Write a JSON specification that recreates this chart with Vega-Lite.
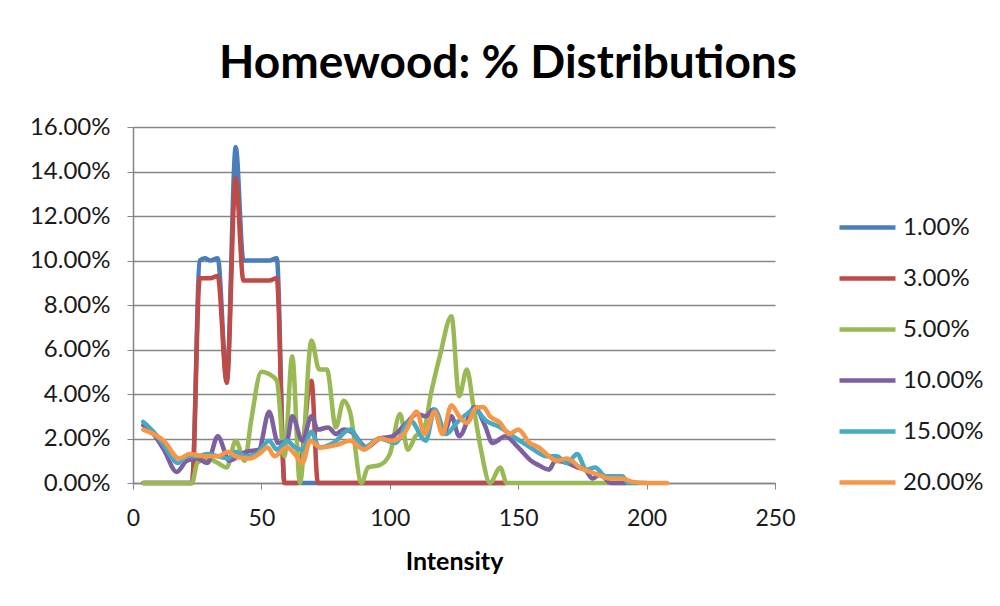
{
  "$schema": "https://vega.github.io/schema/vega-lite/v6.json",
  "autosize": {"type": "none"},
  "width": 642,
  "height": 356,
  "padding": {"left": 133, "top": 127, "right": 225, "bottom": 123},
  "background": "white",
  "title": {
    "text": "Homewood: % Distributions",
    "font": "Lato",
    "fontSize": 46,
    "fontWeight": "bold",
    "color": "#000000",
    "anchor": "middle",
    "frame": "group",
    "dx": 54,
    "offset": 27
  },
  "config": {
    "view": {"stroke": null},
    "font": "Lato"
  },
  "data": {
    "values": [
      {"s": "1.00%", "x": 4, "y": 0}, {"s": "1.00%", "x": 23, "y": 0}, {"s": "1.00%", "x": 26, "y": 10.0}, {"s": "1.00%", "x": 28, "y": 10.1}, {"s": "1.00%", "x": 30, "y": 10.0}, {"s": "1.00%", "x": 33, "y": 10.1}, {"s": "1.00%", "x": 36.5, "y": 4.6}, {"s": "1.00%", "x": 40, "y": 15.1}, {"s": "1.00%", "x": 43, "y": 10.0}, {"s": "1.00%", "x": 46, "y": 10.0}, {"s": "1.00%", "x": 50, "y": 10.0}, {"s": "1.00%", "x": 53, "y": 10.0}, {"s": "1.00%", "x": 56, "y": 10.1}, {"s": "1.00%", "x": 59, "y": 0}, {"s": "1.00%", "x": 64, "y": 0}, {"s": "1.00%", "x": 72, "y": 0}, {"s": "1.00%", "x": 110, "y": 0}, {"s": "1.00%", "x": 145, "y": 0},
      {"s": "3.00%", "x": 4, "y": 0}, {"s": "3.00%", "x": 23, "y": 0}, {"s": "3.00%", "x": 26, "y": 9.2}, {"s": "3.00%", "x": 28, "y": 9.2}, {"s": "3.00%", "x": 30, "y": 9.2}, {"s": "3.00%", "x": 33, "y": 9.3}, {"s": "3.00%", "x": 36.5, "y": 4.5}, {"s": "3.00%", "x": 40, "y": 13.7}, {"s": "3.00%", "x": 43, "y": 9.1}, {"s": "3.00%", "x": 46, "y": 9.1}, {"s": "3.00%", "x": 50, "y": 9.1}, {"s": "3.00%", "x": 53, "y": 9.1}, {"s": "3.00%", "x": 56, "y": 9.2}, {"s": "3.00%", "x": 59, "y": 0}, {"s": "3.00%", "x": 64, "y": 0}, {"s": "3.00%", "x": 69.5, "y": 4.6}, {"s": "3.00%", "x": 72, "y": 0}, {"s": "3.00%", "x": 110, "y": 0}, {"s": "3.00%", "x": 145, "y": 0},
      {"s": "5.00%", "x": 4, "y": 0}, {"s": "5.00%", "x": 23, "y": 0}, {"s": "5.00%", "x": 25, "y": 0.9}, {"s": "5.00%", "x": 29, "y": 1.1}, {"s": "5.00%", "x": 33, "y": 0.9}, {"s": "5.00%", "x": 36.5, "y": 0.7}, {"s": "5.00%", "x": 40, "y": 1.9}, {"s": "5.00%", "x": 43.5, "y": 1.0}, {"s": "5.00%", "x": 46, "y": 2.8}, {"s": "5.00%", "x": 50, "y": 5.0}, {"s": "5.00%", "x": 53, "y": 4.9}, {"s": "5.00%", "x": 56, "y": 4.6}, {"s": "5.00%", "x": 59, "y": 1.2}, {"s": "5.00%", "x": 62, "y": 5.7}, {"s": "5.00%", "x": 65, "y": 0}, {"s": "5.00%", "x": 69.5, "y": 6.4}, {"s": "5.00%", "x": 72.5, "y": 5.1}, {"s": "5.00%", "x": 75.5, "y": 5.1}, {"s": "5.00%", "x": 79, "y": 2.5}, {"s": "5.00%", "x": 82, "y": 3.7}, {"s": "5.00%", "x": 84.5, "y": 3.2}, {"s": "5.00%", "x": 89, "y": 0}, {"s": "5.00%", "x": 91.5, "y": 0.7}, {"s": "5.00%", "x": 96, "y": 0.8}, {"s": "5.00%", "x": 100, "y": 1.3}, {"s": "5.00%", "x": 104, "y": 3.1}, {"s": "5.00%", "x": 107, "y": 1.5}, {"s": "5.00%", "x": 110, "y": 2.1}, {"s": "5.00%", "x": 113.5, "y": 2.5}, {"s": "5.00%", "x": 116, "y": 4.0}, {"s": "5.00%", "x": 119.5, "y": 5.7}, {"s": "5.00%", "x": 124, "y": 7.5}, {"s": "5.00%", "x": 127, "y": 3.9}, {"s": "5.00%", "x": 130, "y": 5.1}, {"s": "5.00%", "x": 132.5, "y": 3.5}, {"s": "5.00%", "x": 135.5, "y": 1.5}, {"s": "5.00%", "x": 139, "y": 0}, {"s": "5.00%", "x": 143, "y": 0.7}, {"s": "5.00%", "x": 145.5, "y": 0}, {"s": "5.00%", "x": 170, "y": 0}, {"s": "5.00%", "x": 196, "y": 0},
      {"s": "10.00%", "x": 4, "y": 2.6}, {"s": "10.00%", "x": 8, "y": 2.2}, {"s": "10.00%", "x": 12, "y": 1.5}, {"s": "10.00%", "x": 17, "y": 0.5}, {"s": "10.00%", "x": 21, "y": 1.0}, {"s": "10.00%", "x": 25, "y": 1.1}, {"s": "10.00%", "x": 29, "y": 0.9}, {"s": "10.00%", "x": 33, "y": 2.1}, {"s": "10.00%", "x": 37.5, "y": 1.0}, {"s": "10.00%", "x": 41, "y": 1.2}, {"s": "10.00%", "x": 44, "y": 1.4}, {"s": "10.00%", "x": 49, "y": 1.5}, {"s": "10.00%", "x": 53, "y": 3.2}, {"s": "10.00%", "x": 56.5, "y": 1.8}, {"s": "10.00%", "x": 60, "y": 1.9}, {"s": "10.00%", "x": 62, "y": 3.0}, {"s": "10.00%", "x": 66, "y": 1.9}, {"s": "10.00%", "x": 69.5, "y": 3.0}, {"s": "10.00%", "x": 72, "y": 2.4}, {"s": "10.00%", "x": 76, "y": 2.5}, {"s": "10.00%", "x": 79, "y": 2.2}, {"s": "10.00%", "x": 82, "y": 2.4}, {"s": "10.00%", "x": 85, "y": 2.3}, {"s": "10.00%", "x": 91, "y": 1.6}, {"s": "10.00%", "x": 96, "y": 2.0}, {"s": "10.00%", "x": 101, "y": 2.1}, {"s": "10.00%", "x": 106.5, "y": 2.7}, {"s": "10.00%", "x": 110.5, "y": 3.1}, {"s": "10.00%", "x": 114, "y": 3.0}, {"s": "10.00%", "x": 117, "y": 3.3}, {"s": "10.00%", "x": 121, "y": 2.2}, {"s": "10.00%", "x": 124, "y": 3.0}, {"s": "10.00%", "x": 127, "y": 2.1}, {"s": "10.00%", "x": 133, "y": 3.4}, {"s": "10.00%", "x": 137, "y": 2.6}, {"s": "10.00%", "x": 140, "y": 1.8}, {"s": "10.00%", "x": 145, "y": 2.1}, {"s": "10.00%", "x": 150, "y": 1.6}, {"s": "10.00%", "x": 155, "y": 1.0}, {"s": "10.00%", "x": 158, "y": 0.8}, {"s": "10.00%", "x": 162, "y": 0.6}, {"s": "10.00%", "x": 164.5, "y": 1.0}, {"s": "10.00%", "x": 169, "y": 0.9}, {"s": "10.00%", "x": 173, "y": 0.7}, {"s": "10.00%", "x": 176, "y": 0.6}, {"s": "10.00%", "x": 179, "y": 0.2}, {"s": "10.00%", "x": 182, "y": 0.4}, {"s": "10.00%", "x": 186, "y": 0}, {"s": "10.00%", "x": 192, "y": 0},
      {"s": "15.00%", "x": 4, "y": 2.75}, {"s": "15.00%", "x": 8, "y": 2.3}, {"s": "15.00%", "x": 12, "y": 1.7}, {"s": "15.00%", "x": 17.5, "y": 0.9}, {"s": "15.00%", "x": 21, "y": 1.2}, {"s": "15.00%", "x": 25, "y": 1.2}, {"s": "15.00%", "x": 29, "y": 1.3}, {"s": "15.00%", "x": 33, "y": 1.2}, {"s": "15.00%", "x": 37, "y": 1.1}, {"s": "15.00%", "x": 40, "y": 1.4}, {"s": "15.00%", "x": 44, "y": 1.2}, {"s": "15.00%", "x": 48, "y": 1.3}, {"s": "15.00%", "x": 53, "y": 1.9}, {"s": "15.00%", "x": 56, "y": 1.5}, {"s": "15.00%", "x": 60, "y": 1.9}, {"s": "15.00%", "x": 63, "y": 1.6}, {"s": "15.00%", "x": 66, "y": 1.5}, {"s": "15.00%", "x": 69.5, "y": 2.3}, {"s": "15.00%", "x": 72.5, "y": 1.6}, {"s": "15.00%", "x": 78, "y": 1.8}, {"s": "15.00%", "x": 84.5, "y": 2.4}, {"s": "15.00%", "x": 90, "y": 1.6}, {"s": "15.00%", "x": 96, "y": 2.0}, {"s": "15.00%", "x": 102, "y": 1.8}, {"s": "15.00%", "x": 108, "y": 2.8}, {"s": "15.00%", "x": 114, "y": 1.9}, {"s": "15.00%", "x": 117.5, "y": 3.3}, {"s": "15.00%", "x": 122, "y": 2.2}, {"s": "15.00%", "x": 126, "y": 2.7}, {"s": "15.00%", "x": 130, "y": 3.1}, {"s": "15.00%", "x": 133, "y": 3.3}, {"s": "15.00%", "x": 137.5, "y": 2.8}, {"s": "15.00%", "x": 143, "y": 2.5}, {"s": "15.00%", "x": 148, "y": 2.1}, {"s": "15.00%", "x": 152, "y": 1.8}, {"s": "15.00%", "x": 156, "y": 1.5}, {"s": "15.00%", "x": 161, "y": 1.2}, {"s": "15.00%", "x": 165, "y": 1.2}, {"s": "15.00%", "x": 169, "y": 0.9}, {"s": "15.00%", "x": 173, "y": 1.3}, {"s": "15.00%", "x": 176.5, "y": 0.6}, {"s": "15.00%", "x": 180, "y": 0.7}, {"s": "15.00%", "x": 184, "y": 0.3}, {"s": "15.00%", "x": 190.5, "y": 0.3}, {"s": "15.00%", "x": 193, "y": 0}, {"s": "15.00%", "x": 200, "y": 0},
      {"s": "20.00%", "x": 4, "y": 2.4}, {"s": "20.00%", "x": 8, "y": 2.2}, {"s": "20.00%", "x": 12, "y": 1.9}, {"s": "20.00%", "x": 18, "y": 1.1}, {"s": "20.00%", "x": 22, "y": 1.3}, {"s": "20.00%", "x": 28, "y": 1.2}, {"s": "20.00%", "x": 33, "y": 1.2}, {"s": "20.00%", "x": 37, "y": 1.4}, {"s": "20.00%", "x": 40, "y": 1.2}, {"s": "20.00%", "x": 45.5, "y": 1.1}, {"s": "20.00%", "x": 49, "y": 1.3}, {"s": "20.00%", "x": 52.5, "y": 1.6}, {"s": "20.00%", "x": 55, "y": 1.2}, {"s": "20.00%", "x": 60, "y": 1.6}, {"s": "20.00%", "x": 63, "y": 1.3}, {"s": "20.00%", "x": 66, "y": 0.9}, {"s": "20.00%", "x": 69, "y": 1.9}, {"s": "20.00%", "x": 73, "y": 1.6}, {"s": "20.00%", "x": 79, "y": 1.7}, {"s": "20.00%", "x": 84.5, "y": 1.9}, {"s": "20.00%", "x": 90, "y": 1.5}, {"s": "20.00%", "x": 96, "y": 2.0}, {"s": "20.00%", "x": 101, "y": 1.9}, {"s": "20.00%", "x": 106, "y": 2.3}, {"s": "20.00%", "x": 110.5, "y": 3.2}, {"s": "20.00%", "x": 113.5, "y": 2.2}, {"s": "20.00%", "x": 117.5, "y": 3.2}, {"s": "20.00%", "x": 120.5, "y": 2.2}, {"s": "20.00%", "x": 124, "y": 3.5}, {"s": "20.00%", "x": 127, "y": 3.0}, {"s": "20.00%", "x": 130, "y": 2.7}, {"s": "20.00%", "x": 134, "y": 3.4}, {"s": "20.00%", "x": 136.5, "y": 3.4}, {"s": "20.00%", "x": 139, "y": 3.0}, {"s": "20.00%", "x": 143, "y": 2.7}, {"s": "20.00%", "x": 146.5, "y": 2.2}, {"s": "20.00%", "x": 150, "y": 2.4}, {"s": "20.00%", "x": 154.5, "y": 1.8}, {"s": "20.00%", "x": 158, "y": 1.6}, {"s": "20.00%", "x": 161, "y": 1.3}, {"s": "20.00%", "x": 165, "y": 1.0}, {"s": "20.00%", "x": 169, "y": 1.1}, {"s": "20.00%", "x": 174, "y": 0.7}, {"s": "20.00%", "x": 180.5, "y": 0.4}, {"s": "20.00%", "x": 185.5, "y": 0.2}, {"s": "20.00%", "x": 190.5, "y": 0.2}, {"s": "20.00%", "x": 194.5, "y": 0.05}, {"s": "20.00%", "x": 200, "y": 0}, {"s": "20.00%", "x": 208, "y": 0}
    ]
  },
  "mark": {"type": "line", "strokeWidth": 4.5, "interpolate": "monotone", "strokeCap": "round", "strokeJoin": "round"},
  "encoding": {
    "x": {
      "field": "x", "type": "quantitative",
      "scale": {"domain": [0, 250], "nice": false},
      "axis": {
        "title": "Intensity", "titleFont": "Lato", "titleFontSize": 25, "titleFontWeight": "bold", "titleColor": "#000000", "titlePadding": 19,
        "values": [0, 50, 100, 150, 200, 250], "grid": false,
        "domainColor": "#868686", "domainWidth": 1.5, "tickColor": "#868686", "tickSize": 6,
        "labelFont": "Lato", "labelFontSize": 23, "labelColor": "#1a1a1a", "labelPadding": 18, "labelFlush": false
      }
    },
    "y": {
      "field": "y", "type": "quantitative",
      "scale": {"domain": [0, 16], "nice": false},
      "axis": {
        "title": null,
        "values": [0, 2, 4, 6, 8, 10, 12, 14, 16],
        "labelExpr": "format(datum.value / 100, '.2%')",
        "grid": true, "gridColor": "#868686", "gridWidth": 1.3,
        "domainColor": "#868686", "domainWidth": 1.5, "tickColor": "#868686", "tickSize": 6,
        "labelFont": "Lato", "labelFontSize": 24, "labelColor": "#1a1a1a", "labelPadding": 17
      }
    },
    "color": {
      "field": "s", "type": "nominal",
      "scale": {
        "domain": ["1.00%", "3.00%", "5.00%", "10.00%", "15.00%", "20.00%"],
        "range": ["#4A7EBB", "#BE4B48", "#98B954", "#7D60A0", "#46AAC5", "#F79646"]
      },
      "legend": {
        "title": null, "orient": "none", "legendX": 704, "legendY": 70,
        "symbolType": "stroke", "symbolSize": 3136, "symbolStrokeWidth": 4.5,
        "labelFont": "Lato", "labelFontSize": 24, "labelColor": "#1a1a1a", "labelOffset": 5,
        "rowPadding": 8, "padding": 0
      }
    }
  }
}
